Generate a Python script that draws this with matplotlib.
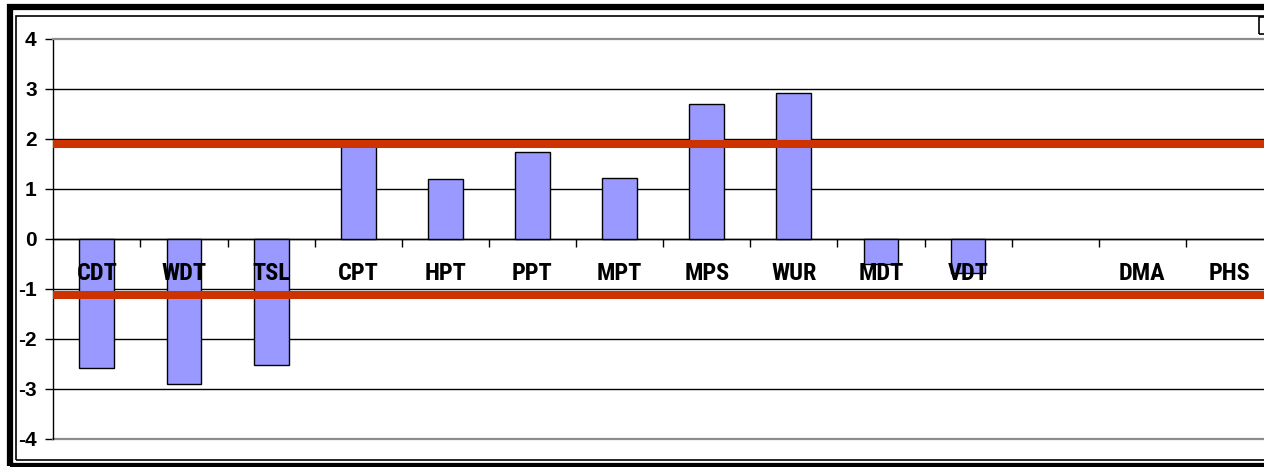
import numpy as np
import matplotlib
matplotlib.use("Agg")
import matplotlib.pyplot as plt
from matplotlib.patches import Rectangle

categories = ["CDT", "WDT", "TSL", "CPT", "HPT", "PPT", "MPT", "MPS", "WUR",
              "MDT", "VDT", "", "DMA", "PHS"]
scores = [-2.58, -2.91, -2.52, 1.90, 1.20, 1.74, 1.21, 2.69, 2.91,
          -0.50, -0.68, np.nan, np.nan, np.nan]
upper_limit = 1.90
lower_limit = -1.12
y_ticks = [-4, -3, -2, -1, 0, 1, 2, 3, 4]

W, H = 1264, 467
fig = plt.figure(figsize=(W / 100, H / 100), dpi=100)
fig.patch.set_facecolor("white")

# plot area runs a bit past the right edge of the image
left, right, top, bottom = 53.3, 1273, 38.5, 438.5
ax = fig.add_axes([left / W, (H - bottom) / H, (right - left) / W, (bottom - top) / H])

x = np.arange(len(categories))
ax.bar(x, scores, width=0.40, color="#9999FF", edgecolor="black", linewidth=1.0, zorder=3)

ax.axhline(upper_limit, color="#CC3300", linewidth=5.8, zorder=4)
ax.axhline(lower_limit, color="#CC3300", linewidth=5.8, zorder=4)

ax.set_xlim(-0.5, len(categories) - 0.5)
ax.set_ylim(-4, 4)

# horizontal gridlines
for v in y_ticks[1:-1]:
    ax.axhline(v, color="black", linewidth=1.0, zorder=1)

ax.spines["top"].set_color("#8c8c8c")
ax.spines["top"].set_linewidth(1.6)
ax.spines["right"].set_visible(False)
ax.spines["left"].set_color("black")
ax.spines["left"].set_linewidth(1.0)
ax.spines["bottom"].set_position(("data", 0))
ax.spines["bottom"].set_linewidth(1.0)
ax.axhline(-4, color="#8c8c8c", linewidth=1.6, clip_on=False, zorder=2)

ax.set_yticks(y_ticks)
ax.set_yticklabels([str(v) for v in y_ticks])
ax.tick_params(axis="y", direction="out", length=6, width=1.0, pad=6)
for lab in ax.get_yticklabels():
    lab.set_fontfamily(["Liberation Sans", "DejaVu Sans"])
    lab.set_fontweight("bold")
    lab.set_fontsize(15)

# category boundaries get the tick marks
ax.set_xticks(np.arange(0.5, len(categories) - 0.5, 1.0))
ax.set_xticklabels([])
ax.tick_params(axis="x", which="major", direction="out", length=6, width=1.0)

# category names sit just under the zero line, on top of the bars
narrow = ["Liberation Sans Narrow", "Roboto Condensed", "Archivo Narrow",
          "Liberation Sans", "DejaVu Sans"]
for xi, name in zip(x, categories):
    ax.text(xi, -0.70, name, ha="center", va="center", fontsize=17.5,
            fontweight="bold", family=narrow, zorder=6)

# double frame around the chart
fig.add_artist(Rectangle((9.5 / W, (H - 465.5) / H), 1.2, (465.5 - 7) / H,
                         transform=fig.transFigure, fill=False,
                         edgecolor="black", linewidth=4.5))
fig.add_artist(Rectangle((16 / W, (H - 459.5) / H), 1.2, (459.5 - 16) / H,
                         transform=fig.transFigure, fill=False,
                         edgecolor="black", linewidth=1.2))
fig.add_artist(Rectangle((1258.5 / W, (H - 34) / H), 12 / W, 17 / H,
                         transform=fig.transFigure, fill=False,
                         edgecolor="black", linewidth=1.2))

fig.savefig("out.png", dpi=100)
